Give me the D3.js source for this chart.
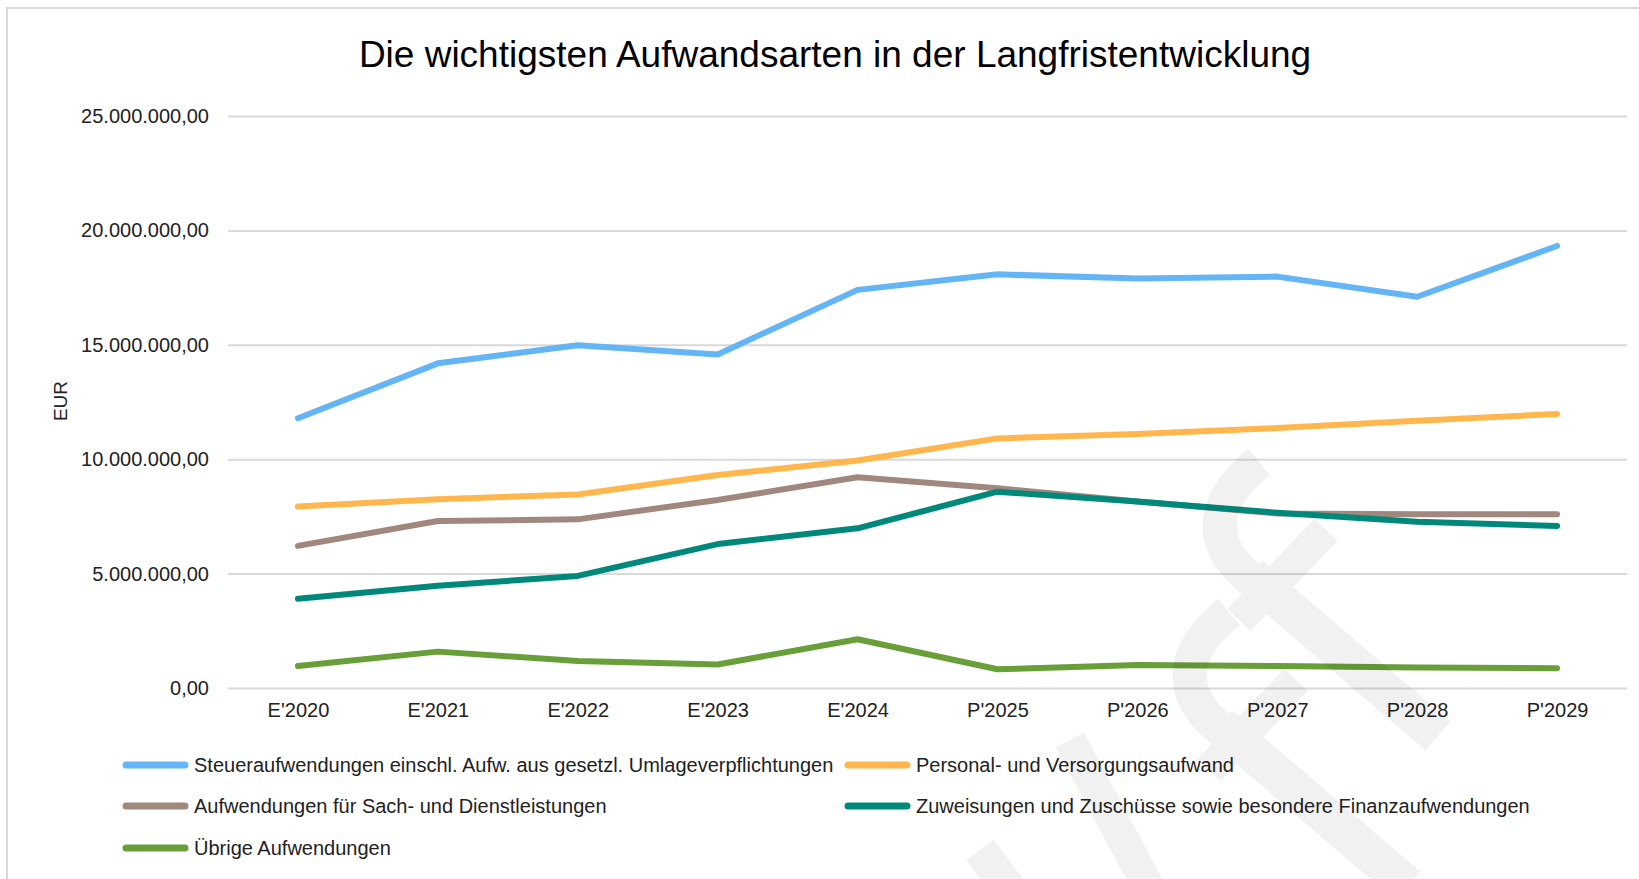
<!DOCTYPE html>
<html lang="de">
<head>
<meta charset="utf-8">
<title>Die wichtigsten Aufwandsarten in der Langfristentwicklung</title>
<script src="https://cdn.jsdelivr.net/npm/d3@7"></script>
<style>
  html, body { margin: 0; padding: 0; background: #fff; }
  svg { display: block; font-family: "Liberation Sans", Arial, sans-serif; }
</style>
</head>
<body>
<div id="chart"></div>
<script>
// Jahre (E = Ergebnis, P = Plan)
const years = ["E'2020", "E'2021", "E'2022", "E'2023", "E'2024", "P'2025", "P'2026", "P'2027", "P'2028", "P'2029"];

// Werte in EUR
const steuer   = [11790000, 14190000, 14980000, 14580000, 17400000, 18080000, 17900000, 17980000, 17100000, 19320000];
const personal = [7930000, 8250000, 8460000, 9310000, 9940000, 10910000, 11100000, 11360000, 11680000, 11980000];
const sach     = [6210000, 7300000, 7370000, 8220000, 9210000, 8730000, 8150000, 7630000, 7590000, 7590000];
const zuweis   = [3900000, 4470000, 4900000, 6290000, 6980000, 8580000, 8150000, 7660000, 7270000, 7080000];
const uebrige  = [960000, 1590000, 1180000, 1030000, 2130000, 820000, 1000000, 960000, 900000, 860000];

const seriesNames = [
    "Steueraufwendungen einschl. Aufw. aus gesetzl. Umlageverpflichtungen",
    "Personal- und Versorgungsaufwand",
    "Aufwendungen für Sach- und Dienstleistungen",
    "Zuweisungen und Zuschüsse sowie besondere Finanzaufwendungen",
    "Übrige Aufwendungen"
];
const seriesValues = [steuer, personal, sach, zuweis, uebrige];
const seriesColors = ["#64b5f6", "#ffb74d", "#a1887f", "#00897b", "#689f38"];

const yTicks = [0, 5000000, 10000000, 15000000, 20000000, 25000000];

const width = 1639, height = 879;
const fontStack = '"Liberation Sans", Arial, sans-serif';

const svg = d3.select('#chart').append('svg')
    .attr('width', width)
    .attr('height', height);

// Rahmen des Diagramms
svg.append('rect')
    .attr('x', 7).attr('y', 8)
    .attr('width', width + 50).attr('height', height + 50)
    .attr('fill', '#fff')
    .attr('stroke', '#d9d9d9')
    .attr('stroke-width', 2);

const x = d3.scalePoint()
    .domain(years)
    .range([228, 1627])
    .padding(0.5);

const y = d3.scaleLinear()
    .domain([0, 25000000])
    .range([688, 116]);

const de = d3.formatLocale({ decimal: ",", thousands: ".", grouping: [3], currency: ["", " €"] });
const fmt = de.format(",.2f");

// Titel
svg.append('text')
    .attr('x', 835).attr('y', 67)
    .attr('text-anchor', 'middle')
    .attr('font-size', 37)
    .attr('fill', '#000')
    .text("Die wichtigsten Aufwandsarten in der Langfristentwicklung");

// Y-Achse mit Gitterlinien
const yAxis = svg.append('g')
    .attr('transform', 'translate(228,0)')
    .call(d3.axisLeft(y).tickValues(yTicks).tickFormat(fmt).tickSize(-1399).tickPadding(19));
yAxis.select('.domain').remove();
yAxis.selectAll('.tick line').attr('stroke', '#d9d9d9').attr('stroke-width', 2);
yAxis.selectAll('.tick text')
    .attr('font-size', 20)
    .attr('fill', '#222')
    .attr('font-family', fontStack);

// X-Achse
const xAxis = svg.append('g')
    .attr('transform', 'translate(0,688)')
    .call(d3.axisBottom(x).tickSize(0).tickPadding(15));
xAxis.select('.domain').remove();
xAxis.selectAll('.tick text')
    .attr('font-size', 20)
    .attr('fill', '#222')
    .attr('font-family', fontStack);

// Achsentitel
svg.append('text')
    .attr('transform', 'translate(67,401) rotate(-90)')
    .attr('text-anchor', 'middle')
    .attr('font-size', 19)
    .attr('fill', '#222')
    .text('EUR');

// Linien
const line = d3.line()
    .x((d, i) => x(years[i]))
    .y(d => y(d));

svg.append('g').selectAll('path')
    .data(seriesValues)
    .join('path')
    .attr('d', line)
    .attr('fill', 'none')
    .attr('stroke', (d, i) => seriesColors[i])
    .attr('stroke-width', 6)
    .attr('stroke-linejoin', 'round')
    .attr('stroke-linecap', 'round');

// Legende
const legendPos = [
    { x: 123, y: 765 }, { x: 845, y: 765 },
    { x: 123, y: 806 }, { x: 845, y: 806 },
    { x: 123, y: 848 }
];
const legend = svg.append('g').selectAll('g')
    .data(seriesNames)
    .join('g')
    .attr('transform', (d, i) => `translate(${legendPos[i].x},${legendPos[i].y})`);

legend.append('line')
    .attr('x1', 3).attr('x2', 62)
    .attr('stroke', (d, i) => seriesColors[i])
    .attr('stroke-width', 7)
    .attr('stroke-linecap', 'round');

legend.append('text')
    .attr('x', 71)
    .attr('dy', '0.35em')
    .attr('font-size', 20)
    .attr('fill', '#222')
    .text(d => d);

// Wasserzeichen (blasses Logo)
const wm = svg.append('g')
    .attr('opacity', 0.055)
    .attr('fill', 'none')
    .attr('stroke', '#000')
    .attr('stroke-linecap', 'butt');

const logoParts = [
    { d: "M1259,462 C1212,500 1200,545 1262,588", w: 34 },
    { d: "M1250,575 L1438,736", w: 38 },
    { d: "M1326,530 L1239,620", w: 32 }
];
[[0, 0], [-30, 150]].forEach(([dx, dy]) => {
    logoParts.forEach(p => {
        wm.append('path')
            .attr('d', p.d)
            .attr('stroke-width', p.w)
            .attr('transform', `translate(${dx},${dy})`);
    });
});
wm.append('path').attr('d', "M1070,740 L1150,890").attr('stroke-width', 32);
wm.append('path').attr('d', "M980,850 L1010,890").attr('stroke-width', 34);
</script>
</body>
</html>
